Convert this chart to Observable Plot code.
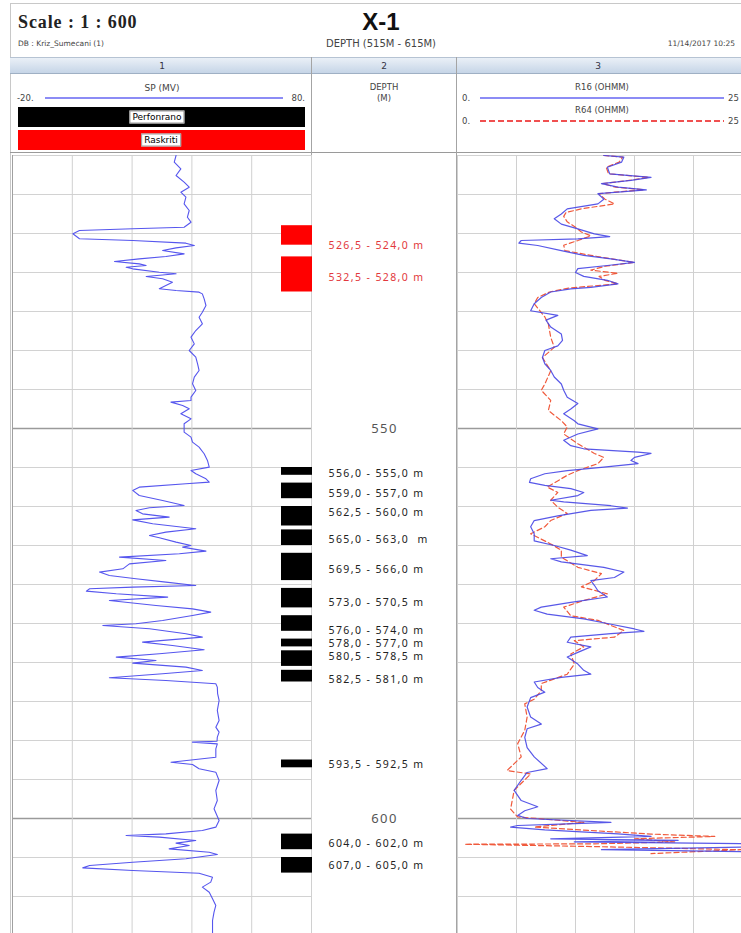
<!DOCTYPE html>
<html><head><meta charset="utf-8">
<script src="https://cdn.jsdelivr.net/npm/d3@7"></script>
<script src="https://cdn.jsdelivr.net/npm/@observablehq/plot@0.6"></script>
<style>
html,body{margin:0;padding:0;overflow:hidden;background:#fff;}
#root{position:relative;width:741px;height:933px;overflow:hidden;font-family:"DejaVu Sans",sans-serif;color:#333;}
#root div{position:absolute;box-sizing:border-box;}
.t{white-space:nowrap;line-height:1;}
</style></head><body><div id="root"></div>
<script>
// ---------------- DATA ----------------
const spTicks = [-20, 0, 20, 40, 60, 80];
const resTicks = [0, 5, 10, 15, 20, 25];
const depthTicks = [515, 520, 525, 530, 535, 540, 545, 550, 555, 560, 565, 570, 575, 580, 585, 590, 595, 600, 605, 610, 615];
const depthMajor = [550, 600];
const trackNames = ["1", "2", "3"];

// Raskriti (opened) intervals — red
const openTop = [524.0, 528.0];
const openBottom = [526.5, 532.5];
const openLabel = ["526,5 - 524,0 m", "532,5 - 528,0 m"];
const openLabelDepth = [526.5, 530.6];

// Perforirano intervals — black
const perfTop = [555.0, 557.0, 560.0, 563.0, 566.0, 570.5, 574.0, 577.0, 578.5, 581.0, 592.5, 602.0, 605.0];
const perfBottom = [556.0, 559.0, 562.5, 565.0, 569.5, 573.0, 576.0, 578.0, 580.5, 582.5, 593.5, 604.0, 607.0];
const perfLabel = ["556,0 - 555,0 m", "559,0 - 557,0 m", "562,5 - 560,0 m", "565,0 - 563,0  m", "569,5 - 566,0 m", "573,0 - 570,5 m", "576,0 - 574,0 m", "578,0 - 577,0 m", "580,5 - 578,5 m", "582,5 - 581,0 m", "593,5 - 592,5 m", "604,0 - 602,0 m", "607,0 - 605,0 m"];
const perfLabelDepth = [555.8, 558.3, 560.8, 564.2, 568.1, 572.3, 575.9, 577.6, 579.3, 582.2, 593.1, 603.2, 606.1];

// SP (mV) curve: [depth, value]
const spCurve = [[515.0,34.7],[515.85,34.1],[516.71,36.3],[517.56,34.7],[518.42,37.4],[519.06,39.1],[519.70,36.3],[520.34,38.0],[521.20,37.4],[522.05,39.1],[522.91,38.5],[523.55,39.7],[524.19,37.4],[524.40,20.2],[524.62,2.4],[525.04,0.2],[525.68,2.4],[525.90,20.2],[526.24,38.0],[526.54,40.8],[526.84,34.7],[527.18,30.2],[527.61,37.4],[527.95,31.3],[528.25,22.4],[528.59,14.1],[528.89,22.4],[529.10,24.7],[529.32,18.0],[529.53,20.2],[529.96,29.1],[530.17,34.7],[530.51,24.7],[530.81,30.2],[531.24,33.5],[531.67,31.3],[532.09,29.1],[532.31,34.7],[532.52,42.4],[532.74,43.5],[533.38,44.1],[534.23,44.7],[535.09,43.5],[535.73,42.4],[536.58,43.5],[537.44,41.3],[538.29,39.7],[539.15,40.8],[540.0,39.1],[540.86,41.3],[541.71,41.9],[542.56,42.4],[543.42,40.8],[544.27,40.2],[545.13,41.3],[545.98,39.7],[546.41,39.7],[546.62,33.0],[547.05,36.9],[547.48,39.1],[548.12,36.3],[548.76,39.7],[549.40,37.4],[549.82,37.4],[550.47,37.4],[551.11,39.7],[551.75,40.2],[552.39,42.4],[553.24,44.1],[554.10,45.2],[554.95,45.8],[555.38,39.7],[555.81,41.3],[556.45,44.7],[556.88,45.8],[557.09,38.0],[557.52,22.4],[557.94,20.2],[558.59,22.4],[559.23,30.2],[559.87,37.4],[560.17,25.8],[560.51,21.3],[560.94,23.5],[561.36,32.4],[561.71,20.2],[562.22,26.9],[562.86,41.3],[563.29,31.3],[563.71,25.8],[564.01,29.1],[564.57,34.7],[565.0,39.7],[565.21,36.9],[565.72,44.7],[566.06,35.8],[566.49,15.8],[566.92,31.3],[567.35,19.1],[567.99,16.9],[568.41,9.1],[568.84,12.4],[569.27,21.3],[569.70,31.3],[570.12,41.3],[570.34,20.2],[570.55,5.8],[570.85,4.7],[571.19,14.7],[571.62,31.9],[572.05,12.4],[572.69,28.0],[573.12,40.2],[573.54,46.3],[573.97,40.2],[574.61,30.2],[575.04,21.3],[575.25,10.2],[575.68,25.8],[576.32,38.0],[576.75,43.5],[577.39,23.5],[577.82,33.5],[578.37,44.1],[578.88,29.1],[579.31,14.7],[579.74,28.0],[580.08,20.2],[580.59,38.0],[581.02,43.5],[581.45,30.2],[581.96,12.4],[582.30,31.3],[582.73,48.0],[583.16,48.5],[584.0,48.6],[584.87,49.1],[586.15,48.5],[587.44,49.1],[588.29,48.0],[588.93,49.1],[589.57,48.5],[590.10,48.4],[590.21,40.2],[590.43,48.5],[591.07,48.0],[592.14,48.0],[592.78,33.0],[593.08,40.2],[593.63,42.4],[594.06,48.0],[595.13,49.1],[596.41,48.0],[597.69,48.5],[598.76,47.4],[600.26,49.1],[601.11,48.0],[601.54,43.5],[601.97,31.3],[602.18,18.0],[602.39,29.1],[602.82,41.3],[603.16,34.7],[603.46,39.1],[603.89,32.4],[604.32,45.8],[604.62,48.5],[605.17,38.0],[605.60,20.2],[606.03,5.8],[606.33,3.5],[606.67,20.2],[607.01,42.4],[607.52,46.9],[608.16,46.3],[608.80,43.5],[609.45,45.8],[610.30,46.9],[611.15,48.0],[612.01,47.4],[613.08,46.9],[614.15,46.9],[615.0,46.9]];

// R16 (ohmm) curve: [depth, value]
const r16Curve = [[515.0,12.4],[515.2,14.1],[515.85,13.9],[516.5,12.7],[517.35,12.9],[517.8,16.4],[518.2,14.7],[518.6,12.2],[519.06,13.6],[519.4,16.0],[519.7,13.6],[519.9,11.9],[520.6,12.4],[521.2,11.9],[521.84,9.3],[522.5,8.8],[523.1,8.2],[523.8,8.8],[524.4,10.2],[525.04,11.6],[525.4,12.9],[525.68,10.2],[525.9,5.4],[526.24,5.2],[526.54,6.8],[527.2,8.8],[527.8,10.7],[528.25,13.0],[528.7,15.0],[529.1,12.7],[529.5,10.2],[530.0,10.0],[530.5,10.7],[531.0,12.7],[531.45,13.6],[531.9,11.3],[532.1,9.6],[532.5,7.9],[533.2,7.1],[534.0,6.5],[534.9,6.2],[535.5,8.5],[536.1,7.5],[537.0,7.9],[537.9,8.8],[538.7,8.9],[539.4,8.5],[540.0,7.4],[540.9,7.2],[541.7,7.4],[542.56,7.9],[543.4,8.2],[544.3,8.8],[545.1,9.0],[546.0,9.3],[546.8,10.2],[547.5,9.6],[548.1,9.0],[549.0,9.9],[549.4,10.2],[550.04,11.9],[550.7,10.2],[551.5,9.0],[552.2,9.6],[552.6,10.7],[553.03,15.3],[553.2,16.4],[553.7,15.0],[554.1,14.7],[554.5,15.3],[554.95,12.4],[555.4,9.3],[555.8,7.4],[556.45,6.2],[556.9,6.1],[557.3,7.4],[557.7,9.6],[558.2,10.7],[558.6,10.2],[559.2,7.9],[559.4,9.0],[559.9,13.0],[560.2,14.4],[560.5,11.3],[561.2,8.5],[561.8,6.5],[562.6,6.2],[563.5,6.5],[564.4,6.5],[565.0,8.2],[565.6,9.6],[566.3,11.0],[566.7,7.9],[567.1,8.8],[567.8,12.4],[568.4,14.1],[569.1,13.3],[569.5,11.3],[570.1,11.6],[570.8,11.9],[571.6,12.7],[572.3,9.6],[572.9,7.1],[573.3,6.5],[573.8,7.6],[574.4,10.7],[575.0,12.7],[575.7,15.0],[576.0,15.8],[576.3,13.0],[576.75,9.6],[577.4,9.3],[578.0,11.3],[578.7,10.2],[579.3,9.3],[580.2,10.2],[581.0,10.7],[581.5,11.3],[581.9,8.8],[582.5,6.5],[583.2,6.8],[583.8,7.4],[584.5,6.2],[585.7,5.9],[587.0,6.2],[587.9,7.1],[588.5,5.9],[589.6,5.7],[590.9,5.9],[592.1,6.5],[593.6,7.6],[594.1,5.9],[595.1,5.4],[596.4,4.8],[597.7,5.4],[598.5,6.8],[599.0,5.7],[599.6,5.1],[600.0,5.9],[600.5,13.0],[600.7,9.3],[600.9,5.1],[601.1,4.5],[601.45,7.4],[601.97,13.6],[602.3,16.4],[602.6,7.9],[602.8,18.7],[603.0,9.9],[603.25,26],[603.6,26],[604.0,12.2],[604.3,26],[604.5,26]];

// R64 (ohmm) curve: [depth, value]
const r64Curve = [[515.0,12.4],[515.2,14.0],[515.85,13.7],[516.5,12.6],[517.35,12.8],[517.8,16.2],[518.2,14.5],[518.6,12.3],[519.06,13.4],[519.4,15.8],[519.7,13.3],[519.9,12.0],[520.6,12.5],[521.2,13.3],[521.84,10.5],[522.3,9.2],[522.8,9.0],[523.5,9.3],[524.2,10.0],[524.8,10.5],[525.3,11.3],[525.9,10.2],[526.5,9.0],[527.2,9.1],[527.8,11.3],[528.25,13.0],[528.7,15.0],[529.2,12.5],[529.7,11.3],[530.1,13.6],[530.5,12.0],[531.0,12.5],[531.45,13.6],[532.0,9.4],[532.5,7.8],[533.2,6.8],[534.0,6.5],[535.7,7.4],[536.6,7.7],[538.3,7.9],[539.6,8.2],[540.9,7.2],[542.6,7.9],[544.3,7.4],[545.1,7.1],[546.4,7.9],[547.7,7.7],[549.0,8.8],[549.8,9.3],[550.7,9.0],[551.96,10.2],[553.2,11.6],[553.7,12.4],[554.5,11.9],[555.4,10.2],[556.0,9.3],[557.5,7.6],[558.2,8.5],[559.2,7.9],[560.1,8.5],[560.9,9.3],[561.8,7.9],[562.6,7.4],[563.5,6.2],[564.8,7.9],[565.6,8.8],[566.5,8.8],[567.8,10.2],[568.6,12.2],[569.5,11.6],[570.3,10.5],[571.2,12.7],[572.05,10.7],[572.9,9.0],[574.0,9.6],[574.6,11.9],[575.9,14.1],[576.75,13.3],[577.2,9.9],[578.0,10.7],[578.9,9.6],[580.2,9.9],[581.5,9.3],[582.7,7.1],[583.6,7.1],[584.7,6.5],[585.3,5.7],[587.0,5.9],[588.7,5.7],[590.4,5.1],[592.1,5.4],[593.85,4.2],[594.3,6.2],[596.4,4.8],[598.8,4.5],[599.8,5.1],[600.5,10.7],[601.1,6.5],[602.0,16.4],[602.3,21.8],[602.6,15.0],[603.0,18.4],[603.25,11.6],[603.3,0.6],[603.6,11.6],[604.0,24.0],[604.5,16.4]];

// ---------------- TABLES ----------------
const toPts = arr => arr.map(([d, v]) => ({d, v}));
const sp = toPts(spCurve), r16 = toPts(r16Curve), r64 = toPts(r64Curve);
const openIv = openTop.map((t, i) => ({top: t, bottom: openBottom[i], label: openLabel[i], ld: openLabelDepth[i]}));
const perfIv = perfTop.map((t, i) => ({top: t, bottom: perfBottom[i], label: perfLabel[i], ld: perfLabelDepth[i]}));

// ---------------- LAYOUT ----------------
const root = document.getElementById("root");
function box(x, y, w, h, style) {
  const d = document.createElement("div");
  d.style.cssText = `left:${x}px;top:${y}px;width:${w}px;height:${h}px;${style || ""}`;
  root.appendChild(d); return d;
}
function label(s, x, y, style, anchor) {
  const d = document.createElement("div");
  d.className = "t"; d.textContent = s;
  const tx = anchor === "middle" ? "-50%" : anchor === "end" ? "-100%" : "0";
  d.style.cssText = `left:${x}px;top:${y}px;transform:translate(${tx},-50%);${style || ""}`;
  root.appendChild(d); return d;
}

// outer frame
box(10, 3, 745, 945, "border:1px solid #c8c8c8;");
// title block
label("Scale : 1 : 600", 18, 22, "font:bold 18px 'Liberation Serif',serif;color:#222;letter-spacing:0.9px;");
label("X-1", 381, 22, "font:bold 24px 'Liberation Sans',Arial,sans-serif;color:#111;", "middle");
label("DB : Kriz_Sumecani (1)", 18, 44, "font-size:7.5px;color:#444;");
label("DEPTH (515M - 615M)", 381, 44, "font-size:10px;color:#444;", "middle");
label("11/14/2017 10:25", 735, 44, "font-size:7.5px;color:#444;", "end");

// track number bar
box(10, 57, 745, 17, "background:linear-gradient(#eaf0f7,#c6d5e7);border-top:1px solid #b6c3d3;border-bottom:1px solid #9fb0c4;");
const trackCenters = [162, 384, 598];
trackNames.forEach((n, i) => label(n, trackCenters[i], 65.5, "font-size:9px;color:#334;", "middle"));
// header bottom border
box(10, 152, 745, 1, "background:#9a9a9a;");

// track 1 header
label("SP (MV)", 162, 88, "font-size:9px;color:#444;", "middle");
label("-20.", 17, 98, "font-size:8.5px;color:#444;");
box(45, 97, 238, 2, "background:#8c8cf5;");
label("80.", 305, 98, "font-size:8.5px;color:#444;", "end");
box(18, 107, 287, 20, "background:#000;");
label("Perfonrano", 157, 117, "font-size:9px;color:#000;background:#fff;padding:1px 2px;border:1px solid #999;", "middle");
box(18, 130, 287, 20, "background:#f00;");
label("Raskriti", 161, 140, "font-size:9px;color:#000;background:#fff;padding:1px 2px;border:1px solid #999;", "middle");

// track 2 header
label("DEPTH", 384, 87, "font-size:8.5px;color:#444;", "middle");
label("(M)", 384, 98, "font-size:8.5px;color:#444;", "middle");

// track 3 header
label("R16 (OHMM)", 602, 87, "font-size:8.5px;color:#444;", "middle");
label("0.", 462, 98, "font-size:8.5px;color:#444;");
box(480, 97, 244, 2, "background:#8c8cf5;");
label("25", 728, 98, "font-size:8.5px;color:#444;");
label("R64 (OHMM)", 602, 110, "font-size:8.5px;color:#444;", "middle");
label("0.", 462, 121, "font-size:8.5px;color:#444;");
box(480, 120, 244, 2, "background:repeating-linear-gradient(90deg,#f05050 0 6px,transparent 6px 9px);");
label("25", 728, 121, "font-size:8.5px;color:#444;");

// track separators (header + body)
box(311, 57, 1, 880, "background:#a4a4a4;");
box(456, 57, 1, 880, "background:#a4a4a4;");

// ---------------- PLOTS ----------------
const H = 780;
const yOpt = {domain: [515, 615], range: [0, H], axis: null};
const common = {height: H, margin: 0, style: {background: "transparent", overflow: "visible"}};

const t1 = Plot.plot({
  ...common, width: 300,
  x: {domain: [-20, 80], range: [0, 299], axis: null},
  y: yOpt,
  marks: [
    Plot.ruleY(depthTicks, {stroke: "#d2d2d2"}),
    Plot.ruleY(depthMajor, {stroke: "#9a9a9a", strokeWidth: 1.5}),
    Plot.ruleX(spTicks, {stroke: "#d0d0d0"}),
    Plot.ruleX([spTicks[0]], {stroke: "#a0a0a0"}),
    Plot.rect(openIv, {y1: "top", y2: "bottom", fill: "#ff0000", insetLeft: 269, insetRight: 0}),
    Plot.rect(perfIv, {y1: "top", y2: "bottom", fill: "#000000", insetLeft: 269, insetRight: 0}),
    Plot.line(sp, {x: "v", y: "d", stroke: "#5656ee", strokeWidth: 1.1, clip: true})
  ]
});
box(12, 155, 300, H, "overflow:visible;").appendChild(t1);

const t2 = Plot.plot({
  ...common, width: 144,
  y: yOpt,
  marks: [
    Plot.text(depthMajor, {y: d => d, text: d => String(d), frameAnchor: "middle", fontSize: 13, fill: "#555"}),
    Plot.text(openIv, {y: "ld", text: "label", frameAnchor: "left", textAnchor: "start", dx: 16, fontSize: 10.5, fill: "#e2383c"}),
    Plot.text(perfIv, {y: "ld", text: "label", frameAnchor: "left", textAnchor: "start", dx: 16, fontSize: 10.5, fill: "#222"})
  ]
});
t2.style.letterSpacing = "1.4px";
box(312, 155, 144, H, "overflow:visible;").appendChild(t2);

const t3 = Plot.plot({
  ...common, width: 296,
  x: {domain: [0, 25], range: [0, 295], axis: null},
  y: yOpt,
  marks: [
    Plot.ruleY(depthTicks, {stroke: "#d2d2d2"}),
    Plot.ruleY(depthMajor, {stroke: "#9a9a9a", strokeWidth: 1.5}),
    Plot.ruleX(resTicks, {stroke: "#d0d0d0"}),
    Plot.line(r64, {x: "v", y: "d", stroke: "#f05a3c", strokeWidth: 1.2, strokeDasharray: "5,3", clip: true}),
    Plot.line(r16, {x: "v", y: "d", stroke: "#4646e6", strokeWidth: 1.2, strokeOpacity: 0.9, clip: true})
  ]
});
box(457, 155, 296, H, "overflow:hidden;").appendChild(t3);
</script></body></html>
